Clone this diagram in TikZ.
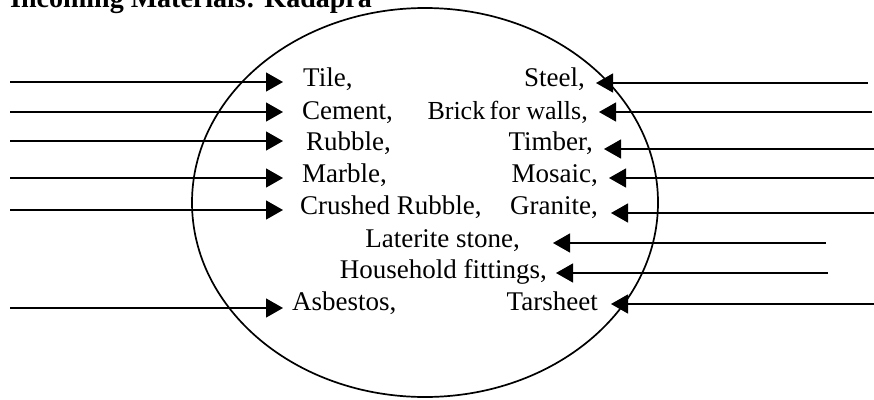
\documentclass[tikz,border=0pt]{standalone}
\usepackage{fontspec}
\setmainfont{Liberation Serif}
\usetikzlibrary{arrows.meta}
\begin{document}
\begin{tikzpicture}[x=1pt,y=-1pt,
  item/.style={inner sep=0pt, font=\fontsize{27}{31}\selectfont},
  lft/.style={item, anchor=base west},
  rgt/.style={item, anchor=base east},
  feed/.style={line width=1.3pt, -{Triangle[length=17pt,width=19pt]}},
  ]
\useasboundingbox (0,0) rectangle (874,399);

% heading
\node[anchor=base west, inner sep=0pt, font=\bfseries\fontsize{28}{32}\selectfont]
  (title) at (10,7) {Incoming Materials: Kadapra};

% site boundary
\draw[line width=1.7pt] (425,202.5) ellipse [x radius=233, y radius=194.5];

% materials, left column
\node[lft] (tile)    at (303,86)  {Tile,};
\node[lft] (cement)  at (302,119) {Cement,};
\node[lft] (rubble)  at (306,150) {Rubble,};
\node[lft] (marble)  at (302,182) {Marble,};
\node[lft] (crushed) at (300,214) {Crushed Rubble,};
\node[lft] (asbest)  at (292,310) {Asbestos,};

% materials, right column
\node[rgt] (steel)   at (585,86)  {Steel,};
\node[rgt, font=\fontsize{26}{30}\selectfont] (brick) at (588,119) {Brick\,for walls,};
\node[rgt] (timber)  at (593,150) {Timber,};
\node[rgt] (mosaic)  at (598,182) {Mosaic,};
\node[rgt] (granite) at (598,214) {Granite,};
\node[rgt] (later)   at (520,247) {Laterite stone,};
\node[rgt] (house)   at (547,278) {Household fittings,};
\node[rgt] (tar)     at (598,310) {Tarsheet};

% free ends of the incoming lines
\coordinate (sTile)    at (10,82);
\coordinate (sCement)  at (10,112);
\coordinate (sRubble)  at (10,141);
\coordinate (sMarble)  at (10,178);
\coordinate (sCrushed) at (10,210);
\coordinate (sAsbest)  at (10,308);
\coordinate (sSteel)   at (868,83);
\coordinate (sBrick)   at (872,112);
\coordinate (sTimber)  at (874,149);
\coordinate (sMosaic)  at (874,178);
\coordinate (sGranite) at (874,213);
\coordinate (sLater)   at (826,243);
\coordinate (sHouse)   at (828,273);
\coordinate (sTar)     at (874,304);

% incoming arrows from the left
\draw[feed, shorten >=20pt] (sTile)    -- (sTile -| tile.west);
\draw[feed, shorten >=19pt] (sCement)  -- (sCement -| cement.west);
\draw[feed, shorten >=23pt] (sRubble)  -- (sRubble -| rubble.west);
\draw[feed, shorten >=19pt] (sMarble)  -- (sMarble -| marble.west);
\draw[feed, shorten >=17pt] (sCrushed) -- (sCrushed -| crushed.west);
\draw[feed, shorten >=9pt]  (sAsbest)  -- (sAsbest -| asbest.west);

% incoming arrows from the right
\draw[feed, shorten >=11pt] (sSteel)   -- (sSteel -| steel.east);
\draw[feed, shorten >=11pt] (sBrick)   -- (sBrick -| brick.east);
\draw[feed, shorten >=11pt] (sTimber)  -- (sTimber -| timber.east);
\draw[feed, shorten >=11pt] (sMosaic)  -- (sMosaic -| mosaic.east);
\draw[feed, shorten >=13pt] (sGranite) -- (sGranite -| granite.east);
\draw[feed, shorten >=33pt] (sLater)   -- (sLater -| later.east);
\draw[feed, shorten >=9pt]  (sHouse)   -- (sHouse -| house.east);
\draw[feed, shorten >=13pt] (sTar)     -- (sTar -| tar.east);
\end{tikzpicture}
\end{document}
